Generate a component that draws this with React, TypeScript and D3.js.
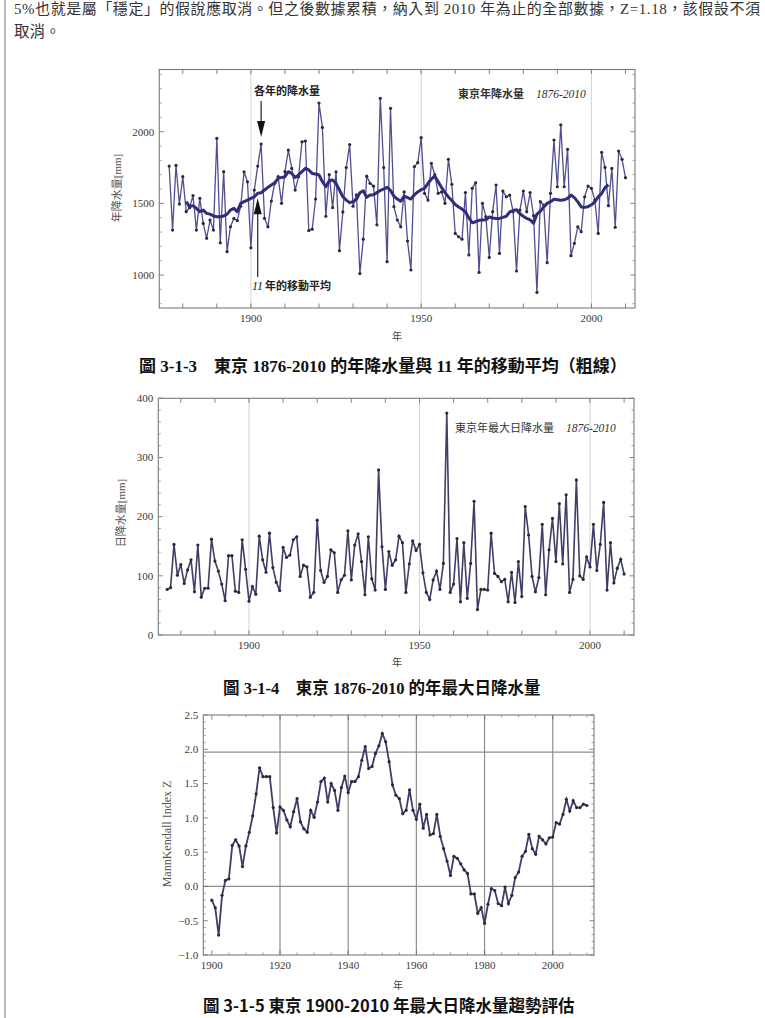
import React from 'react';
import * as d3 from 'd3';

// Tokyo annual precipitation, 1876-2010 (mm)
const years = d3.range(1876, 2011);
const annualRain = [
  1760, 1314, 1765, 1495, 1686, 1442, 1470, 1555, 1314, 1535,
  1360, 1256, 1384, 1314, 1953, 1225, 1721, 1163, 1337, 1395,
  1380, 1480, 1720, 1650, 1190, 1593, 1760, 1914, 1395, 1337,
  1516, 1640, 1686, 1500, 1721, 1872, 1744, 1593, 1686, 1930,
  1935, 1310, 1320, 1530, 2200, 2030, 1410, 1700, 1470, 1720,
  1170, 1440, 1750, 1910, 1480, 1560, 1010, 1250, 1690, 1640,
  1620, 1350, 2233, 1750, 1093, 2163, 1477, 1384, 1337, 1580,
  1237, 1035, 1756, 1784, 1958, 1570, 1523, 1780, 1700, 1570,
  1580, 1500, 1807, 1633, 1290, 1267, 1250, 1575, 1140, 1605,
  1644, 1018, 1500, 1407, 1123, 1442, 1628, 1151, 1586, 1546,
  1558, 1442, 1028, 1453, 1586, 1442, 1575, 1414, 879, 1512,
  1488, 1086, 1570, 1942, 1616, 2047, 1616, 1877, 1135, 1221,
  1337, 1302, 1546, 1621, 1605, 1523, 1290, 1856, 1751, 1484,
  1744, 1333, 1865, 1807, 1679,
];

// 11-year moving average, centred, 1881-2005
const maYears = d3.range(1881, 2006);
const movingAvg = [
  1512, 1477, 1484, 1465, 1442, 1453, 1430, 1425, 1412, 1407,
  1407, 1412, 1425, 1453, 1465, 1442, 1500, 1512, 1523, 1535,
  1546, 1570, 1574, 1593, 1612, 1628, 1644, 1674, 1681, 1686,
  1721, 1709, 1681, 1698, 1721, 1744, 1733, 1709, 1705, 1698,
  1651, 1616, 1658, 1663, 1640, 1593, 1546, 1523, 1505, 1512,
  1528, 1574, 1588, 1542, 1558, 1560, 1575, 1590, 1600, 1612,
  1590, 1550, 1530, 1515, 1550, 1540, 1530, 1560, 1580, 1595,
  1605, 1640, 1670, 1690, 1650, 1610, 1575, 1545, 1520, 1492,
  1475, 1460, 1440, 1400, 1365, 1372, 1382, 1384, 1386, 1405,
  1398, 1395, 1395, 1402, 1410, 1440, 1450, 1455, 1428, 1410,
  1395, 1385, 1362, 1425, 1445, 1475, 1500, 1512, 1528, 1525,
  1522, 1525, 1535, 1558, 1540, 1510, 1475, 1472, 1477, 1490,
  1510, 1545, 1568, 1610, 1630,
];

// Tokyo annual maximum daily precipitation, 1876-2010 (mm)
const maxDailyRain = [
  77, 80, 153, 101, 119, 87, 110, 127, 73, 152,
  64, 79, 79, 162, 125, 108, 86, 58, 134, 134,
  74, 72, 161, 111, 57, 82, 69, 167, 127, 106,
  172, 114, 89, 75, 148, 131, 135, 161, 166, 99,
  118, 115, 64, 72, 194, 109, 89, 99, 144, 139,
  72, 93, 101, 176, 93, 152, 171, 124, 68, 166,
  95, 76, 279, 149, 77, 141, 118, 127, 167, 156,
  72, 120, 159, 143, 153, 105, 72, 60, 93, 108,
  77, 121, 375, 72, 86, 163, 56, 156, 62, 121,
  226, 43, 77, 77, 76, 172, 104, 99, 90, 94,
  56, 106, 55, 124, 65, 217, 169, 99, 73, 97,
  187, 68, 144, 197, 124, 222, 120, 237, 72, 94,
  262, 100, 94, 132, 115, 187, 109, 153, 224, 76,
  156, 88, 113, 128, 103,
];

// Mann-Kendall trend index Z, 1900-2010
const mkYears = d3.range(1900, 2011);
const mkIndex = [
  -0.20, -0.31, -0.71, -0.13, 0.09, 0.11, 0.60, 0.68, 0.59, 0.29,
  0.59, 0.79, 1.03, 1.35, 1.73, 1.60, 1.60, 1.60, 1.15, 0.78,
  1.16, 1.11, 0.97, 0.87, 1.09, 1.28, 0.94, 0.84, 0.79, 1.11,
  1.01, 1.23, 1.53, 1.58, 1.23, 1.50, 1.40, 1.11, 1.44, 1.61,
  1.37, 1.53, 1.53, 1.60, 1.84, 2.04, 1.72, 1.75, 1.94, 2.05,
  2.23, 2.11, 1.82, 1.48, 1.33, 1.28, 1.06, 1.11, 1.41, 1.11,
  0.98, 1.20, 0.85, 1.05, 0.75, 0.77, 1.05, 0.73, 0.55, 0.37,
  0.16, 0.44, 0.41, 0.33, 0.24, 0.19, -0.11, -0.11, -0.39, -0.31,
  -0.54, -0.26, -0.03, -0.06, -0.25, -0.28, -0.01, -0.25, -0.13, 0.13,
  0.21, 0.44, 0.51, 0.76, 0.55, 0.47, 0.73, 0.68, 0.62, 0.71,
  0.72, 0.93, 0.91, 1.05, 1.27, 1.10, 1.25, 1.15, 1.15, 1.20,
  1.18,
];

const serif = '"Liberation Serif", "DejaVu Serif", serif';
const cjk = '"Noto Sans CJK TC", "Noto Sans CJK SC", sans-serif';
const mixed = '"Liberation Serif", "Noto Sans CJK TC", serif';

type Scale = d3.ScaleLinear<number, number>;

interface FrameProps {
  x: Scale;
  y: Scale;
  xTicks: number[];
  xMinor?: number[];
  xLabels: number[];
  yTicks: number[];
  yMinor: number[];
  yFormat?: (v: number) => string;
  gridX: number[];
  gridY?: number[];
  gridColor: string;
  gridWidth: number;
}

// Mathematica-style box: gridlines, inward ticks on all four sides, labels
function Frame({ x, y, xTicks, xMinor = [], xLabels, yTicks, yMinor, yFormat = String, gridX, gridY = [], gridColor, gridWidth }: FrameProps) {
  const [l, r] = x.range();
  const [b, t] = y.range();
  const tick = '#666';
  return (
    <g>
      {gridX.map(v => (
        <line key={'gx' + v} x1={x(v)} x2={x(v)} y1={t} y2={b} stroke={gridColor} strokeWidth={gridWidth} />
      ))}
      {gridY.map(v => (
        <line key={'gy' + v} x1={l} x2={r} y1={y(v)} y2={y(v)} stroke={gridColor} strokeWidth={gridWidth} />
      ))}
      {xTicks.map(v => (
        <g key={'xt' + v} stroke={tick} strokeWidth={0.8}>
          <line x1={x(v)} x2={x(v)} y1={b} y2={b - 4.5} />
          <line x1={x(v)} x2={x(v)} y1={t} y2={t + 4.5} />
        </g>
      ))}
      {xMinor.map(v => (
        <g key={'xm' + v} stroke={tick} strokeWidth={0.6}>
          <line x1={x(v)} x2={x(v)} y1={b} y2={b - 2.5} />
          <line x1={x(v)} x2={x(v)} y1={t} y2={t + 2.5} />
        </g>
      ))}
      {yTicks.map(v => (
        <g key={'yt' + v} stroke={tick} strokeWidth={0.8}>
          <line x1={l} x2={l + 4.5} y1={y(v)} y2={y(v)} />
          <line x1={r} x2={r - 4.5} y1={y(v)} y2={y(v)} />
        </g>
      ))}
      {yMinor.map(v => (
        <g key={'ym' + v} stroke={tick} strokeWidth={0.6}>
          <line x1={l} x2={l + 2.5} y1={y(v)} y2={y(v)} />
          <line x1={r} x2={r - 2.5} y1={y(v)} y2={y(v)} />
        </g>
      ))}
      <rect x={l} y={t} width={r - l} height={b - t} fill="none" stroke="#7a7a7a" strokeWidth={1.1} />
      {xLabels.map(v => (
        <text key={'xl' + v} x={x(v)} y={b + 14} textAnchor="middle" fontFamily={serif} fontSize={11} fill="#3a3a3a">
          {v}
        </text>
      ))}
      {yTicks.map(v => (
        <text key={'yl' + v} x={l - 5} y={y(v) + 3.8} textAnchor="end" fontFamily={serif} fontSize={11} fill="#3a3a3a">
          {yFormat(v)}
        </text>
      ))}
    </g>
  );
}

function Dots({ xs, ys, color }: { xs: number[]; ys: number[]; color: string }) {
  return (
    <g fill={color}>
      {xs.map((v, i) => (
        <circle key={i} cx={v} cy={ys[i]} r={1.6} />
      ))}
    </g>
  );
}

export default function App() {
  // Fig. 3-1-3: annual precipitation
  const x1 = d3.scaleLinear().domain([1873.1, 2012.8]).range([159.3, 635]);
  const y1 = d3.scaleLinear().domain([770, 2434]).range([308, 69.5]);
  const rainLine = d3.line<number>().x((_, i) => x1(years[i])).y(d => y1(d));
  const maLine = d3.line<number>().x((_, i) => x1(maYears[i])).y(d => y1(d));

  // Fig. 3-1-4: annual maximum daily precipitation
  const x2 = d3.scaleLinear().domain([1873.4, 2012.9]).range([158.3, 634]);
  const y2 = d3.scaleLinear().domain([0, 400]).range([635, 398.3]);
  const dailyLine = d3.line<number>().x((_, i) => x2(years[i])).y(d => y2(d));

  // Fig. 3-1-5: Mann-Kendall index
  const x3 = d3.scaleLinear().domain([1897.5, 2012.1]).range([203.3, 594]);
  const y3 = d3.scaleLinear().domain([-1, 2.5]).range([955, 715]);
  const mkLine = d3.line<number>().x((_, i) => x3(mkYears[i])).y(d => y3(d));

  const decade = d3.range(1880, 2011, 10);
  const arrowX1 = x1(1903);
  const arrowTip1 = y1(annualRain[1903 - 1876]) - 7;
  const arrowX2 = x1(1902);
  const arrowTip2 = y1(movingAvg[1902 - 1881]) + 5;

  return (
    <svg width={765} height={1018} style={{ position: 'absolute', left: 0, top: 0, background: '#fff' }}>
      <rect width={765} height={1018} fill="#fff" />
      <line x1={5} x2={5} y1={0} y2={1018} stroke="#8a8a8a" strokeWidth={1.2} />

      <text x={14} y={14} fontFamily={mixed} fontSize={15} fill="#333" textLength={746} lengthAdjust="spacing">
        5%也就是屬「穩定」的假說應取消。但之後數據累積，納入到 2010 年為止的全部數據，Z=1.18，該假設不須
      </text>
      <text x={14} y={37} fontFamily={mixed} fontSize={15.5} fill="#333">取消。</text>

      {/* annual precipitation */}
      <Frame
        x={x1}
        y={y1}
        xTicks={decade}
        xLabels={[1900, 1950, 2000]}
        yTicks={[1000, 1500, 2000]}
        yMinor={d3.range(800, 2500, 100).filter(v => v % 500 !== 0)}
        gridX={[1900, 1950, 2000]}
        gridColor="#d4d4d4"
        gridWidth={1}
      />
      <path d={rainLine(annualRain) ?? ''} fill="none" stroke="#4e4e92" strokeWidth={1.3} />
      <Dots xs={years.map(v => x1(v))} ys={annualRain.map(v => y1(v))} color="#2a2a3a" />
      <path d={maLine(movingAvg) ?? ''} fill="none" stroke="#2e2e7a" strokeWidth={3} strokeLinejoin="round" />
      <text x={254} y={95} fontFamily={cjk} fontSize={11} fontWeight={700} fill="#222">各年的降水量</text>
      <line x1={arrowX1} x2={arrowX1} y1={101} y2={arrowTip1 - 10} stroke="#222" strokeWidth={1.2} />
      <path d={`M${arrowX1 - 4},${arrowTip1 - 16} L${arrowX1 + 4},${arrowTip1 - 16} L${arrowX1},${arrowTip1} Z`} fill="#111" />
      <line x1={arrowX2} x2={arrowX2} y1={277} y2={arrowTip2 + 10} stroke="#222" strokeWidth={1.2} />
      <path d={`M${arrowX2 - 4},${arrowTip2 + 16} L${arrowX2 + 4},${arrowTip2 + 16} L${arrowX2},${arrowTip2} Z`} fill="#111" />
      <text x={252} y={290} fontSize={11} fill="#222">
        <tspan fontFamily={serif} fontStyle="italic" fontSize={12}>11</tspan>
        <tspan fontFamily={cjk} fontWeight={700} dx={2}>年的移動平均</tspan>
      </text>
      <text x={458} y={98} fontSize={11} fill="#333">
        <tspan fontFamily={cjk} fontWeight={700}>東京年降水量</tspan>
        <tspan fontFamily={serif} fontStyle="italic" fontSize={11.5} dx={12}>1876-2010</tspan>
      </text>
      <text transform="translate(121,188) rotate(-90)" textAnchor="middle" fontFamily={mixed} fontSize={11} fill="#555">年降水量[mm]</text>
      <text x={397} y={340} textAnchor="middle" fontFamily={cjk} fontSize={10} fill="#444">年</text>
      <text x={139} y={372} fontFamily={mixed} fontSize={17} fontWeight={700} fill="#111">
        圖 3-1-3　東京 1876-2010 的年降水量與 11 年的移動平均（粗線）
      </text>

      {/* annual maximum daily precipitation */}
      <Frame
        x={x2}
        y={y2}
        xTicks={decade}
        xLabels={[1900, 1950, 2000]}
        yTicks={[0, 100, 200, 300, 400]}
        yMinor={d3.range(20, 400, 20).filter(v => v % 100 !== 0)}
        gridX={[1900, 1950, 2000]}
        gridColor="#d4d4d4"
        gridWidth={1}
      />
      <path d={dailyLine(maxDailyRain) ?? ''} fill="none" stroke="#3e3e66" strokeWidth={1.6} />
      <Dots xs={years.map(v => x2(v))} ys={maxDailyRain.map(v => y2(v))} color="#2a2a3a" />
      <text x={455} y={432} fontSize={11} fill="#333">
        <tspan fontFamily={cjk}>東京年最大日降水量</tspan>
        <tspan fontFamily={serif} fontStyle="italic" fontSize={11.5} dx={12}>1876-2010</tspan>
      </text>
      <text transform="translate(125,513) rotate(-90)" textAnchor="middle" fontFamily={mixed} fontSize={11} fill="#555">日降水量[mm]</text>
      <text x={397} y={666} textAnchor="middle" fontFamily={cjk} fontSize={10} fill="#444">年</text>
      <text x={223} y={694} fontFamily={mixed} fontSize={16.5} fontWeight={700} fill="#111">
        圖 3-1-4　東京 1876-2010 的年最大日降水量
      </text>

      {/* Mann-Kendall index */}
      <Frame
        x={x3}
        y={y3}
        xTicks={d3.range(1900, 2011, 20)}
        xMinor={d3.range(1900, 2013, 5).filter(v => v % 20 !== 0)}
        xLabels={d3.range(1900, 2011, 20)}
        yTicks={d3.range(-1, 2.51, 0.5)}
        yMinor={d3.range(-0.9, 2.5, 0.1).filter(v => Math.abs(v * 2 - Math.round(v * 2)) > 0.01)}
        yFormat={d3.format('.1f')}
        gridX={[1920, 1940, 1960, 1980, 2000]}
        gridY={[0, 1.96]}
        gridColor="#8f8f8f"
        gridWidth={1.2}
      />
      <path d={mkLine(mkIndex) ?? ''} fill="none" stroke="#3e3e68" strokeWidth={1.8} />
      <Dots xs={mkYears.map(v => x3(v))} ys={mkIndex.map(v => y3(v))} color="#2a2a3a" />
      <text transform="translate(171,834) rotate(-90)" textAnchor="middle" fontFamily={serif} fontSize={12} fill="#555">MannKendall Index Z</text>
      <text x={398} y={989} textAnchor="middle" fontFamily={cjk} fontSize={10} fill="#444">年</text>
      <text x={203} y={1012} fontFamily={cjk} fontSize={16.5} fontWeight={700} fill="#111">
        圖 3-1-5 東京 1900-2010 年最大日降水量趨勢評估
      </text>
    </svg>
  );
}
